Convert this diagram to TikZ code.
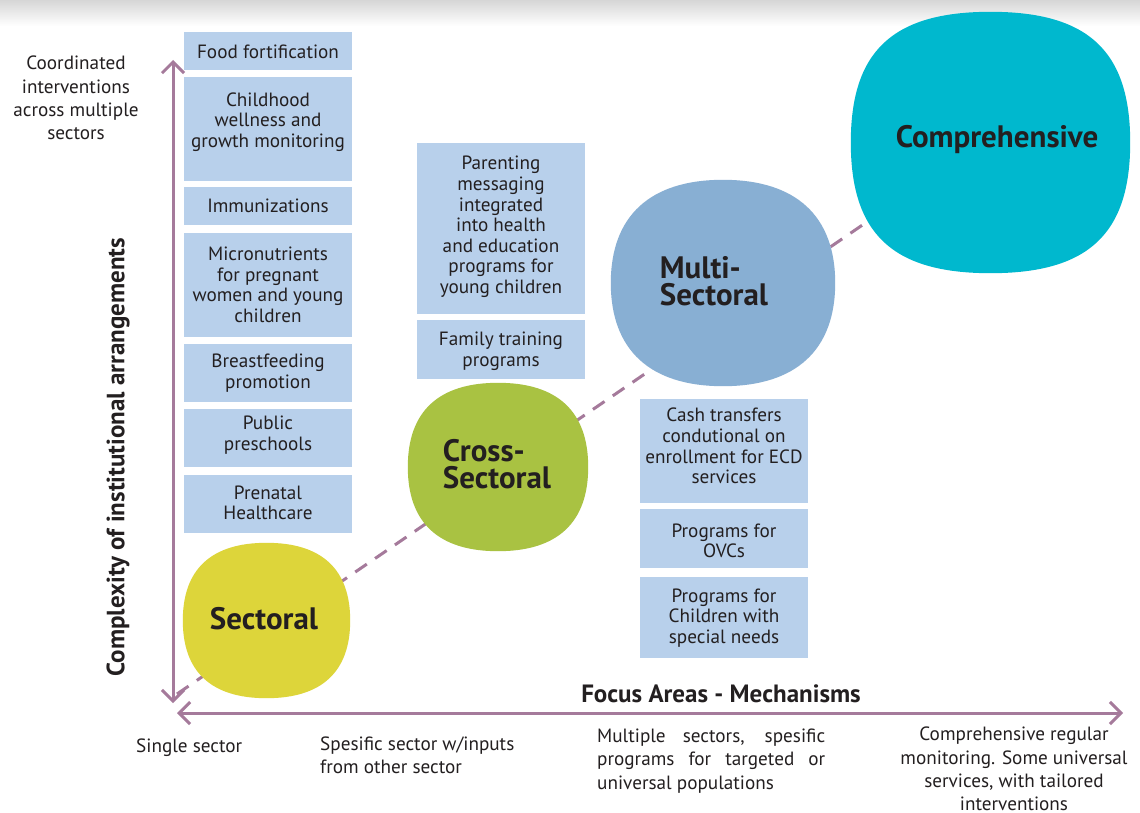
\documentclass[tikz,border=0pt]{standalone}
\usepackage{fontspec}
\setmainfont{PT Sans}
\usetikzlibrary{arrows.meta,calc}

\definecolor{boxblue}{HTML}{B8D0EB}
\definecolor{axismauve}{HTML}{A57A9B}
\definecolor{secyellow}{HTML}{DDD53A}
\definecolor{crossgreen}{HTML}{A9C242}
\definecolor{multiblue}{HTML}{88AFD3}
\definecolor{compcyan}{HTML}{00B8CE}
\definecolor{textdark}{HTML}{231F20}

\tikzset{
  ibox/.style={rectangle, fill=boxblue, draw=none, inner sep=0pt},
  itext/.style={inner sep=0pt, align=center, text=textdark,
    font=\fontsize{19.2}{20.6}\selectfont},
  blob/.style={rectangle, draw=none, inner sep=0pt},
  blobtext/.style={inner sep=0pt, align=left, text=textdark,
    font=\bfseries\fontsize{31}{26.5}\selectfont},
  axistext/.style={inner sep=0pt, text=textdark,
    font=\fontsize{19.2}{23.3}\selectfont},
  axishead/.style={inner sep=0pt, text=textdark,
    font=\bfseries\fontsize{25}{27}\selectfont},
  axisline/.style={draw=axismauve, line width=3pt,
    {Straight Barb[length=11pt,width=22pt]}-{Straight Barb[length=11pt,width=22pt]}},
  pathline/.style={draw=axismauve, line width=3pt, dash pattern=on 14pt off 10pt}
}

% box: name, left, top, right, bottom, text centre y, text
\newcommand\ibox[7]{%
  \node[ibox, minimum width={(#4-#2)*1pt}, minimum height={(#5-#3)*1pt}]
    (#1) at ({(#2+#4)/2},{(#3+#5)/2}) {};
  \node[itext] (#1-t) at ({(#2+#4)/2},#6) {#7};
}

% squircle filling the frame of a node: node, colour, corner fullness
\newcommand\squirclefill[3]{%
  \fill[#2] (#1.east)
    .. controls ($(#1.east)!#3!(#1.north east)$) and ($(#1.north)!#3!(#1.north east)$) .. (#1.north)
    .. controls ($(#1.north)!#3!(#1.north west)$) and ($(#1.west)!#3!(#1.north west)$) .. (#1.west)
    .. controls ($(#1.west)!#3!(#1.south west)$) and ($(#1.south)!#3!(#1.south west)$) .. (#1.south)
    .. controls ($(#1.south)!#3!(#1.south east)$) and ($(#1.east)!#3!(#1.south east)$) .. (#1.east)
    -- cycle;
}

\begin{document}
\begin{tikzpicture}[x=1pt,y=-1pt]
\useasboundingbox (0,0) rectangle (1140,813);
\fill[white] (0,0) rectangle (1140,813);
\shade[top color=black!16, bottom color=white] (0,0) rectangle (1140,26);

% progression line behind the stages
\coordinate (pathstart) at (177,694);
\coordinate (pathend) at (880,213);
\draw[pathline] (pathstart) -- (pathend);

% stages
\node[blob, minimum width=167pt, minimum height=155pt] (sectoral) at (266.5,620.5) {};
\squirclefill{sectoral}{secyellow}{0.66}
\node[blobtext] (sectoral-t) at (264,619) {Sectoral};

\node[blob, minimum width=180pt, minimum height=168pt] (cross) at (498,467) {};
\squirclefill{cross}{crossgreen}{0.66}
\node[blobtext] (cross-t) at (497,464) {Cross-\\Sectoral};

\node[blob, minimum width=224pt, minimum height=206pt] (multi) at (723,283) {};
\squirclefill{multi}{multiblue}{0.65}
\node[blobtext] (multi-t) at (714,281) {Multi-\\Sectoral};

\node[blob, minimum width=279pt, minimum height=261pt] (comp) at (990.5,142.5) {};
\squirclefill{comp}{compcyan}{0.7}
\node[blobtext] (comp-t) at (997,140) {Comprehensive};

% interventions, single sector
\ibox{food}{184}{32}{352}{70}{52}{Food fortification}
\ibox{wellness}{184}{77}{352}{181}{122}{Childhood\\wellness and\\growth monitoring}
\ibox{immun}{184}{187}{352}{225}{206}{Immunizations}
\ibox{micro}{184}{233}{352}{337}{285}{Micronutrients\\for pregnant\\women and young\\children}
\ibox{breast}{184}{344}{352}{402}{373}{Breastfeeding\\promotion}
\ibox{presch}{184}{409}{352}{467}{435}{Public\\preschools}
\ibox{prenatal}{184}{475}{352}{533}{503}{Prenatal\\Healthcare}

% interventions, cross-sectoral
\ibox{parent}{417}{143}{585}{314}{227}{Parenting\\messaging\\integrated\\into health\\and education\\programs for\\young children}
\ibox{family}{417}{320}{585}{379}{351}{Family training\\programs}

% interventions, multi-sectoral
\ibox{cash}{640}{399}{808}{503}{446}{Cash transfers\\condutional on\\enrollment for ECD\\services}
\ibox{ovc}{640}{509}{808}{568}{541}{Programs for\\OVCs}
\ibox{special}{640}{577}{808}{658}{618}{Programs for\\Children with\\special needs}

% axes
\coordinate (vtop) at (173,60);
\coordinate (vbot) at (173,703);
\coordinate (hleft) at (177,713);
\coordinate (hright) at (1123,713);
\draw[axisline] (vbot) -- (vtop);
\draw[axisline] (hleft) -- (hright);

\node[axistext, align=center] (ytop) at (76,98)
  {Coordinated\\interventions\\across multiple\\sectors};
\node[axishead, rotate=90] (ylabel) at (118,457)
  {Complexity of institutional arrangements};
\node[axishead] (xlabel) at (721,694) {Focus Areas - Mechanisms};

\node[axistext, anchor=west] (x1) at (136,748) {Single sector};
\node[axistext, anchor=west, align=left] (x2) at (320,755)
  {Spesific sector w/inputs\\from other sector};
\node[axistext, anchor=west, align=left] (x3) at (597,761)
  {\makebox[228pt][s]{Multiple sectors, spesific}\\
   \makebox[228pt][s]{programs for targeted or}\\
   universal populations};
\node[axistext, align=center] (x4) at (1014,769)
  {Comprehensive regular\\monitoring. Some universal\\services, with tailored\\interventions};
\end{tikzpicture}
\end{document}
